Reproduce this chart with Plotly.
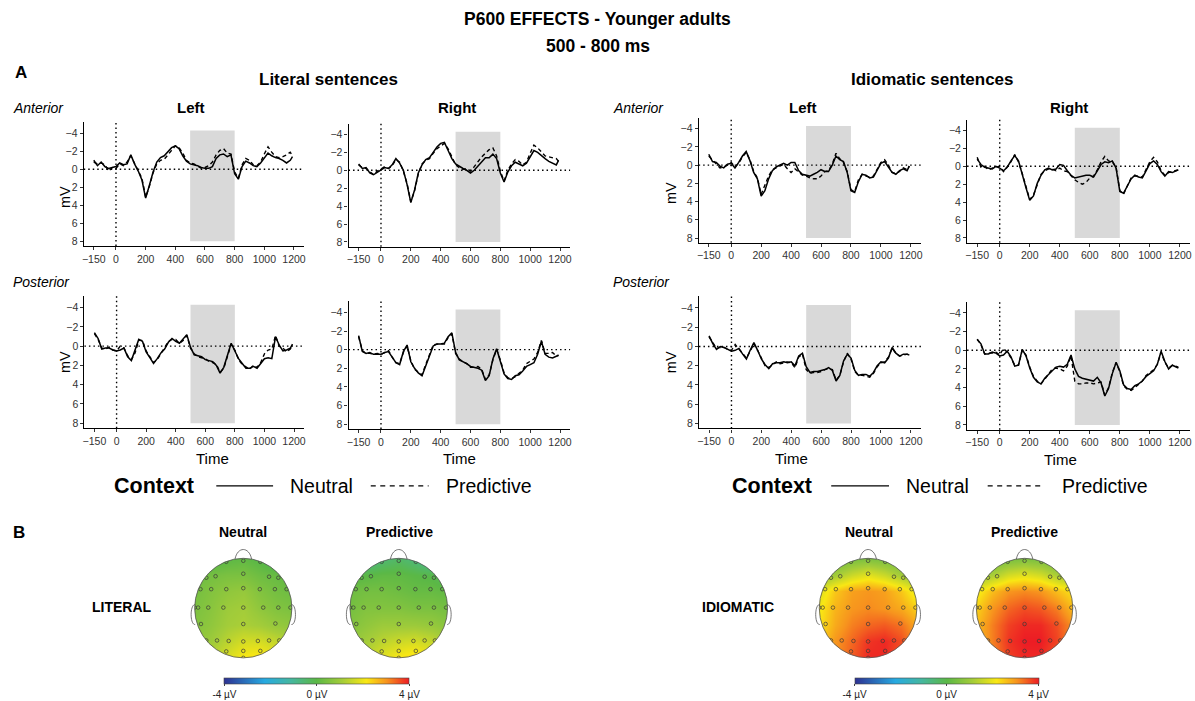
import math
import plotly.graph_objects as go

W, H = 1195, 701
FONT = "Liberation Sans, Arial, sans-serif"

# ---------------- data ----------------
TIME = [-150, -125, -100, -75, -50, -25, 0, 25, 50, 75, 100, 125, 150, 175, 200, 225, 250, 275,
        300, 325, 350, 375, 400, 425, 450, 475, 500, 525, 550, 575, 600, 625, 650, 675, 700,
        725, 750, 775, 800, 825, 850, 875, 900, 925, 950, 975, 1000, 1025, 1050, 1075, 1100,
        1125, 1150, 1175, 1190]

X_TICKS = [-150, 0, 200, 400, 600, 800, 1000, 1200]
Y_TICKS = [-4, -2, 0, 2, 4, 6, 8]
P600_WINDOW = [500, 800]

# Literal sentences
LIT_ANT_LEFT_NEUTRAL = [-1.0, -0.4, -0.8, -0.3, -0.1, -0.2, -0.3, -0.7, -0.5, -0.6,
                        -1.6, -0.6, 0.2, 1.2, 3.2, 1.8, 0.3, -0.8, -1.3, -1.5,
                        -1.9, -2.4, -2.6, -2.3, -1.5, -0.9, -0.6, -0.5, -0.4, -0.2,
                        -0.1, -0.1, -0.3, -1.2, -1.6, -1.7, -1.4, -1.6, 0.5, 1.1,
                        -0.3, -0.9, -0.7, -0.4, -0.3, -0.7, -1.3, -1.8, -1.5, -1.3,
                        -1.2, -1.0, -0.7, -1.0, -1.4]
LIT_ANT_LEFT_PREDICTIVE = [-0.8, -0.6, -0.7, -0.5, 0.2, -0.2, -0.1, -0.6, -0.4, -0.8,
                           -1.5, -0.7, 0.1, 1.0, 3.1, 1.9, 0.4, -0.6, -1.0, -1.1,
                           -1.6, -2.1, -2.6, -2.4, -1.8, -1.0, -0.7, -0.6, -0.3, -0.1,
                           -0.2, -0.4, -0.8, -1.6, -2.1, -2.3, -1.8, -1.7, 0.3, 1.0,
                           -0.5, -1.2, -1.0, -0.5, -0.4, -0.8, -1.7, -2.5, -1.9, -1.4,
                           -1.3, -1.4, -1.6, -1.9, -1.5]
LIT_ANT_RIGHT_NEUTRAL = [-0.7, -0.2, -0.3, 0.3, 0.5, 0.2, -0.1, -0.3, -0.2, -0.6,
                         -1.3, -0.8, 0.0, 1.6, 3.6, 2.2, 0.3, -0.6, -1.2, -1.4,
                         -2.0, -2.6, -3.0, -3.1, -2.2, -1.3, -0.7, -0.4, -0.2, 0.0,
                         0.3, 0.0, -0.5, -1.0, -1.4, -1.4, -1.8, -1.3, 0.3, 1.3,
                         0.2, -0.5, -0.9, -0.7, -0.5, -0.8, -1.5, -2.2, -2.0, -1.6,
                         -1.3, -1.0, -0.8, -0.6, -1.1]
LIT_ANT_RIGHT_PREDICTIVE = [-0.6, -0.3, -0.2, 0.2, 0.5, 0.1, -0.2, -0.4, -0.2, -0.5,
                            -1.2, -0.9, 0.1, 1.5, 3.5, 2.3, 0.4, -0.7, -1.1, -1.3,
                            -1.9, -2.4, -2.7, -3.0, -2.4, -1.5, -0.6, -0.3, -0.1, -0.2,
                            0.1, -0.4, -1.0, -1.5, -1.9, -2.3, -2.5, -1.6, 0.1, 1.2,
                            0.0, -0.7, -1.2, -1.0, -0.6, -0.9, -1.9, -2.8, -2.5, -2.0,
                            -1.6, -1.5, -1.4, -1.3, -1.0]
LIT_POST_LEFT_NEUTRAL = [-1.4, -0.8, 0.3, 0.2, 0.2, 0.4, 0.5, 0.4, 0.2, 1.1,
                         1.5, 0.4, -0.7, -0.5, 0.6, 1.2, 1.8, 1.3, 0.7, 0.3,
                         -0.4, -0.8, -0.5, -0.3, -0.7, -1.2, 0.1, 0.9, 1.0, 1.1,
                         1.4, 1.5, 1.6, 2.0, 2.8, 2.2, 0.9, -0.3, 0.5, 1.3,
                         1.8, 2.3, 2.3, 2.1, 2.3, 1.8, 1.3, 1.2, 1.3, -1.0,
                         -0.1, 0.5, 0.4, 0.2, -0.2]
LIT_POST_LEFT_PREDICTIVE = [-1.3, -0.7, 0.2, 0.3, 0.1, 0.4, 0.5, 0.0, 0.2, 1.0,
                            1.4, 0.7, -0.6, -0.6, 0.5, 1.1, 1.7, 1.4, 0.8, 0.2,
                            -0.5, -0.7, -0.7, -0.3, -0.6, -1.1, 0.2, 0.8, 1.1, 1.2,
                            1.3, 1.6, 1.7, 1.9, 2.7, 2.3, 1.0, -0.2, 0.4, 1.4,
                            1.9, 2.2, 2.4, 2.0, 2.2, 1.7, 0.8, 0.4, 0.3, -1.1,
                            0.0, 0.2, 0.6, 0.3, -0.1]
LIT_POST_RIGHT_NEUTRAL = [-1.5, 0.2, 0.4, 0.3, 0.5, 0.5, 0.5, 0.3, 0.2, 0.8,
                          1.4, 1.6, 0.2, -0.5, 1.3, 2.0, 2.5, 2.8, 1.8, 0.8,
                          -0.4, -0.6, -0.6, -0.7, -1.4, -1.8, 0.3, 1.1, 1.3, 1.5,
                          1.8, 1.9, 2.0, 2.2, 3.3, 2.8, 1.0, -0.1, 1.2, 2.6,
                          3.1, 3.2, 2.8, 2.7, 2.3, 1.8, 1.6, 1.4, 0.5, -0.9,
                          0.5, 0.8, 0.9, 0.7, 0.6]
LIT_POST_RIGHT_PREDICTIVE = [-1.4, 0.1, 0.4, 0.4, 0.5, 0.4, 0.5, 0.3, 0.1, 0.8,
                             1.4, 1.5, 0.3, -0.4, 1.2, 2.1, 2.4, 2.7, 1.6, 0.6,
                             -0.5, -0.6, -0.6, -0.6, -1.3, -1.7, 0.4, 1.0, 1.3, 1.5,
                             1.9, 1.9, 1.8, 2.1, 3.2, 2.7, 1.1, 0.0, 1.1, 2.5,
                             3.0, 3.1, 2.9, 2.6, 2.2, 1.5, 1.2, 1.0, 0.3, -1.0,
                             0.4, 0.4, 0.3, 0.7, 0.6]

# Idiomatic sentences
IDI_ANT_LEFT_NEUTRAL = [-1.2, -0.4, -0.3, 0.1, 0.3, -0.1, -0.2, 0.3, -0.3, -1.0,
                        -1.5, -0.5, 0.8, 1.5, 3.4, 2.8, 1.5, 0.6, 0.2, 0.0,
                        -0.2, 0.0, -0.3, -0.3, 0.6, 1.0, 1.1, 1.2, 1.0, 0.8,
                        0.5, 0.7, 0.7, 0.0, -1.0, -0.6, -0.4, 0.8, 2.8, 3.0,
                        1.8, 1.0, 1.1, 1.4, 1.3, 0.6, -0.2, -0.4, 0.2, 0.8,
                        1.0, 0.6, 0.4, 0.6, 0.1]
IDI_ANT_LEFT_PREDICTIVE = [-1.0, -0.6, -0.2, 0.3, 0.2, 0.0, -0.3, 0.2, -0.2, -0.9,
                           -1.4, -0.6, 0.7, 1.4, 3.2, 2.2, 1.2, 0.5, 0.3, 0.1,
                           -0.1, 0.4, 0.8, 0.4, 0.7, 1.1, 1.2, 1.4, 1.5, 1.5,
                           1.2, 0.7, 0.6, -0.1, -1.3, -0.7, -0.3, 0.7, 2.7, 2.9,
                           1.6, 1.0, 1.2, 1.3, 1.2, 0.5, -0.3, -0.6, 0.0, 0.8,
                           0.9, 0.7, 0.3, 0.5, 0.1]
IDI_ANT_RIGHT_NEUTRAL = [-0.8, -0.2, 0.1, 0.2, 0.3, 0.0, 0.2, 0.5, 0.1, -0.6,
                         -1.2, -0.6, 1.0, 2.4, 3.8, 3.3, 1.9, 1.0, 0.4, 0.2,
                         0.4, 0.3, -0.2, -0.1, 0.5, 1.0, 1.3, 1.2, 1.1, 1.0,
                         1.0, 1.2, 0.5, -0.2, -0.5, -0.4, -0.6, 0.2, 2.8, 3.0,
                         2.2, 1.4, 1.0, 1.2, 1.3, 0.5, -0.3, -0.6, -0.2, 0.6,
                         1.1, 0.6, 0.7, 0.5, 0.4]
IDI_ANT_RIGHT_PREDICTIVE = [-1.0, 0.1, 0.0, 0.4, 0.2, 0.1, 0.0, 0.6, 0.0, -0.5,
                            -1.3, -0.5, 0.8, 2.3, 3.7, 3.2, 2.0, 0.9, 0.5, 0.3,
                            0.3, 0.5, 0.2, 0.5, 0.6, 1.1, 1.5, 1.8, 2.0, 1.8,
                            1.3, 1.1, 0.4, -0.5, -1.1, -0.6, -0.5, 0.1, 2.7, 3.1,
                            2.1, 1.3, 1.1, 1.1, 1.2, 0.4, -0.5, -1.0, -0.5, 0.5,
                            1.0, 0.7, 0.6, 0.5, 0.4]
IDI_POST_LEFT_NEUTRAL = [-1.1, -0.3, 0.3, 0.0, 0.1, 0.3, 0.5, 0.4, 0.2, 0.8,
                         1.3, 0.4, -0.4, 0.4, 1.3, 1.9, 2.3, 1.8, 1.7, 1.7,
                         1.6, 1.7, 1.6, 2.0, 1.0, 0.7, 2.1, 2.7, 2.6, 2.6,
                         2.5, 2.4, 2.2, 2.5, 3.6, 3.0, 1.5, 0.8, 1.2, 2.5,
                         3.0, 2.9, 2.9, 3.1, 2.7, 2.0, 1.6, 1.7, 1.2, 0.1,
                         0.7, 1.0, 0.8, 0.8, 0.9]
IDI_POST_LEFT_PREDICTIVE = [-1.0, -0.4, 0.2, 0.1, 0.1, 0.3, 0.4, -0.2, 0.3, 0.7,
                            1.2, 0.5, -0.3, 0.4, 1.2, 2.0, 2.2, 1.9, 1.6, 1.8,
                            1.7, 1.6, 1.7, 2.2, 1.1, 0.8, 2.4, 2.8, 2.7, 2.7,
                            2.6, 2.4, 2.3, 2.4, 3.5, 3.0, 1.6, 0.7, 1.3, 2.6,
                            3.0, 3.0, 3.1, 3.2, 2.8, 2.1, 1.7, 1.6, 1.1, 0.2,
                            0.7, 1.0, 0.9, 0.8, 0.9]
IDI_POST_RIGHT_NEUTRAL = [-1.15, -0.7, 0.4, 0.4, 0.2, 0.3, 0.6, 0.5, 0.1, 0.7,
                          1.7, 1.6, -0.1, 0.6, 1.9, 2.9, 3.4, 3.6, 3.0, 2.6,
                          2.1, 1.8, 1.7, 1.8, 1.5, 0.5, 2.0, 2.8, 3.0, 3.1,
                          3.2, 3.3, 2.9, 3.5, 4.9, 4.1, 2.5, 1.3, 2.2, 3.7,
                          4.1, 4.2, 3.8, 3.6, 3.3, 2.8, 2.5, 2.2, 1.5, 0.1,
                          1.2, 2.0, 1.6, 1.8, 1.9]
IDI_POST_RIGHT_PREDICTIVE = [-1.2, -0.6, 0.4, 0.3, 0.3, 0.2, 0.5, -0.2, 0.2, 0.8,
                             1.6, 1.6, 0.0, 0.5, 1.8, 2.8, 3.3, 3.6, 3.1, 2.5,
                             2.0, 1.9, 2.0, 2.2, 1.7, 0.6, 3.3, 3.6, 3.6, 3.5,
                             3.5, 3.6, 3.5, 3.4, 4.8, 4.0, 2.4, 1.3, 2.3, 3.8,
                             4.2, 4.3, 4.0, 3.7, 3.3, 2.7, 2.4, 2.1, 1.5, 0.2,
                             1.3, 1.9, 1.6, 1.7, 1.8]

# Topographic maps (µV, 500-800 ms), coarse grid rows front -> back, cols left -> right
TOPO_GRID = [-1.0, -0.667, -0.333, 0.0, 0.333, 0.667, 1.0]
TOPO_LIT_NEUTRAL = [[-0.4, -0.2, 0.0, 0.1, -0.1, -0.5, -0.8],
                    [0.2, 0.4, 0.5, 0.5, 0.3, 0.2, 0.0],
                    [0.4, 0.6, 0.8, 0.9, 0.6, 0.4, 0.3],
                    [0.5, 0.7, 1.0, 1.1, 0.8, 0.6, 0.5],
                    [0.6, 0.8, 1.1, 1.2, 1.1, 0.9, 0.8],
                    [0.8, 1.0, 1.4, 1.7, 1.7, 1.5, 1.2],
                    [1.0, 1.3, 1.8, 2.2, 2.3, 2.0, 1.6]]
TOPO_LIT_PREDICTIVE = [[-1.3, -1.0, -0.6, -0.4, -0.7, -1.2, -1.5],
                       [-0.1, 0.0, 0.1, 0.1, 0.0, -0.1, -0.4],
                       [0.3, 0.4, 0.4, 0.3, 0.2, 0.2, 0.1],
                       [0.4, 0.6, 0.6, 0.6, 0.5, 0.5, 0.4],
                       [0.6, 0.8, 1.0, 1.0, 1.0, 0.9, 0.7],
                       [0.8, 1.1, 1.4, 1.6, 1.7, 1.5, 1.1],
                       [1.0, 1.4, 1.9, 2.2, 2.4, 2.1, 1.6]]
TOPO_IDI_NEUTRAL = [[0.0, 0.2, 0.4, 0.5, 0.4, 0.2, 0.0],
                    [0.7, 1.1, 1.6, 1.9, 1.6, 1.1, 0.7],
                    [1.8, 2.5, 2.9, 3.0, 2.9, 2.5, 1.9],
                    [2.1, 2.7, 3.0, 3.1, 3.0, 2.8, 2.4],
                    [2.2, 2.8, 3.2, 3.4, 3.5, 3.3, 2.8],
                    [2.4, 3.0, 3.4, 3.8, 3.9, 3.6, 3.0],
                    [2.4, 3.0, 3.5, 3.9, 3.9, 3.5, 3.0]]
TOPO_IDI_PREDICTIVE = [[0.0, 0.2, 0.4, 0.5, 0.4, 0.2, 0.0],
                       [0.8, 1.2, 1.7, 1.9, 1.7, 1.2, 0.8],
                       [2.0, 2.6, 3.0, 3.1, 3.0, 2.6, 2.2],
                       [2.4, 3.0, 3.4, 3.6, 3.5, 3.2, 2.6],
                       [2.6, 3.2, 3.7, 3.9, 3.9, 3.6, 3.0],
                       [2.6, 3.2, 3.8, 4.0, 4.0, 3.7, 3.0],
                       [2.5, 3.1, 3.7, 3.9, 3.9, 3.5, 3.0]]

ELECTRODE_X = [-0.35, 0.0, 0.35,
               0.0, -0.57, 0.53, -0.76, 0.72,
               -0.88, -0.66, -0.35, 0.0, 0.34, 0.65, 0.89,
               -1.0, -0.93, -0.72, -0.41, 0.0, 0.41, 0.72, 0.97,
               -0.87, 0.0, 0.66,
               -0.76, -0.54, -0.3, 0.0, 0.3, 0.53, 0.74,
               -0.35, 0.0, 0.35, 0.0]
ELECTRODE_Y = [0.93, 0.95, 0.93,
               0.69, 0.64, 0.63, 0.61, 0.61,
               0.38, 0.38, 0.38, 0.4, 0.38, 0.38, 0.38,
               0.01, 0.01, 0.01, 0.01, 0.01, 0.01, 0.01, 0.01,
               -0.32, -0.32, -0.31,
               -0.65, -0.65, -0.66, -0.67, -0.66, -0.65, -0.65,
               -0.87, -0.86, -0.86, -1.0]

COLORSCALE = [[0.0, '#2e3192'], [0.22, '#27aae1'], [0.36, '#45b7a0'], [0.5, '#5bb846'],
              [0.64, '#a5cd39'], [0.77, '#f9e814'], [0.88, '#f7931e'], [1.0, '#ed1c24']]

# ---------------- helpers ----------------
def fx(p):
    return p / W


def fy(p):
    return 1 - p / H


def ax_ids(i):
    return ('x', 'y') if i == 1 else (f"x{i}", f"y{i}")


def ax_keys(i):
    return ('xaxis', 'yaxis') if i == 1 else (f"xaxis{i}", f"yaxis{i}")


fig = go.Figure()
shapes = []
annotations = []
layout = {}

# panel geometry in pixels: left, right, top, bottom
PANELS = [
    (LIT_ANT_LEFT_NEUTRAL, LIT_ANT_LEFT_PREDICTIVE, 82, 303, 123, 247),
    (LIT_ANT_RIGHT_NEUTRAL, LIT_ANT_RIGHT_PREDICTIVE, 347.7, 570, 124.2, 247.7),
    (LIT_POST_LEFT_NEUTRAL, LIT_POST_LEFT_PREDICTIVE, 82.7, 303, 297.4, 430),
    (LIT_POST_RIGHT_NEUTRAL, LIT_POST_RIGHT_PREDICTIVE, 347.7, 570, 302.5, 430.9),
    (IDI_ANT_LEFT_NEUTRAL, IDI_ANT_LEFT_PREDICTIVE, 699, 922, 118.3, 243.8),
    (IDI_ANT_RIGHT_NEUTRAL, IDI_ANT_RIGHT_PREDICTIVE, 968.3, 1192, 120.2, 243.7),
    (IDI_POST_LEFT_NEUTRAL, IDI_POST_LEFT_PREDICTIVE, 699.3, 922, 297.7, 430.3),
    (IDI_POST_RIGHT_NEUTRAL, IDI_POST_RIGHT_PREDICTIVE, 968.3, 1192, 303.1, 431.6),
]
MV_LABEL_PANELS = {1: 53, 3: 53, 5: 672, 7: 672}
TIME_LABEL_PANELS = {3: 460, 4: 460, 7: 460, 8: 461}

for i, (neu, pred, l, r, t, b) in enumerate(PANELS, start=1):
    xa, ya = ax_ids(i)
    xk, yk = ax_keys(i)
    fig.add_trace(go.Scatter(x=TIME, y=neu, xaxis=xa, yaxis=ya, mode='lines',
                             line=dict(color='black', width=1.5), showlegend=False,
                             hoverinfo='skip'))
    fig.add_trace(go.Scatter(x=TIME, y=pred, xaxis=xa, yaxis=ya, mode='lines',
                             line=dict(color='black', width=1.4, dash='4px,3px'),
                             showlegend=False, hoverinfo='skip'))
    layout[xk] = dict(domain=[fx(l), fx(r)], anchor=ya, range=[-217.5, 1267.5],
                      tickvals=X_TICKS, ticks='outside', ticklen=3, tickwidth=1,
                      tickcolor='#333', showline=True, linecolor='black', linewidth=1.1,
                      showgrid=False, zeroline=False,
                      tickfont=dict(family=FONT, size=10.5, color='#333'))
    layout[yk] = dict(domain=[fy(b), fy(t)], anchor=xa, range=[8.52, -5.2],
                      tickvals=Y_TICKS, ticks='outside', ticklen=3, tickwidth=1,
                      tickcolor='#333', showline=True, linecolor='black', linewidth=1.1,
                      showgrid=False, zeroline=False,
                      tickfont=dict(family=FONT, size=10.5, color='#333'))
    shapes.append(dict(type='rect', xref=xa, yref=ya, x0=P600_WINDOW[0], x1=P600_WINDOW[1],
                       y0=-4.3, y1=8.0, fillcolor='#d9d9d9', line=dict(width=0), layer='below'))
    shapes.append(dict(type='line', xref=f"{xa} domain", yref=ya, x0=0, x1=1, y0=0, y1=0,
                       line=dict(color='black', width=1.4, dash='1.5px,3px')))
    shapes.append(dict(type='line', xref=xa, yref=f"{ya} domain", x0=0, x1=0, y0=0, y1=1,
                       line=dict(color='black', width=1.4, dash='1.5px,3px')))
    if i in MV_LABEL_PANELS:
        annotations.append(dict(text='mV', x=fx(MV_LABEL_PANELS[i]), y=fy((t + b) / 2),
                                xref='paper', yref='paper', showarrow=False, textangle=-90,
                                font=dict(family=FONT, size=14.5, color='black')))
    if i in TIME_LABEL_PANELS:
        annotations.append(dict(text='Time', x=fx((l + r) / 2), y=fy(TIME_LABEL_PANELS[i]),
                                xref='paper', yref='paper', showarrow=False,
                                font=dict(family=FONT, size=15, color='black')))

# ---------------- topographic maps ----------------
TOPOS = [
    (TOPO_LIT_NEUTRAL, 242.1, 48.8, 'coloraxis'),
    (TOPO_LIT_PREDICTIVE, 398.1, 49.0, 'coloraxis'),
    (TOPO_IDI_NEUTRAL, 869.0, 49.0, 'coloraxis2'),
    (TOPO_IDI_PREDICTIVE, 1026.0, 48.4, 'coloraxis2'),
]
HEAD_CY, HEAD_RY = 610.7, 50.0
XR = (-1.3, 1.3)
YR = (-1.3, 1.3)

ellipse_pts = [(math.cos(2 * math.pi * k / 160), -math.sin(2 * math.pi * k / 160)) for k in range(160)]
hole = "M " + " L ".join(f"{x:.4f},{y:.4f}" for x, y in ellipse_pts) + " Z"
outer = "M -3,-3 L 3,-3 L 3,3 L -3,3 Z"
mask_path = outer + " " + hole

for j, (grid, cx, rx, cax) in enumerate(TOPOS, start=9):
    xa, ya = ax_ids(j)
    xk, yk = ax_keys(j)
    fig.add_trace(go.Heatmap(x=TOPO_GRID, y=TOPO_GRID[::-1], z=grid, coloraxis=cax,
                             zsmooth='best', xaxis=xa, yaxis=ya, hoverinfo='skip'))
    fig.add_trace(go.Scatter(x=ELECTRODE_X, y=ELECTRODE_Y, xaxis=xa, yaxis=ya, mode='markers',
                             marker=dict(symbol='circle-open', size=3.6, color='#3a3a3a',
                                         line=dict(width=0.7, color='#3a3a3a')),
                             showlegend=False, hoverinfo='skip'))
    x0p = cx + XR[0] * rx
    x1p = cx + XR[1] * rx
    y_top = HEAD_CY - YR[1] * HEAD_RY
    y_bot = HEAD_CY - YR[0] * HEAD_RY
    layout[xk] = dict(domain=[fx(x0p), fx(x1p)], anchor=ya, range=list(XR), visible=False)
    layout[yk] = dict(domain=[fy(y_bot), fy(y_top)], anchor=xa, range=list(YR), visible=False)
    shapes.append(dict(type='path', xref=xa, yref=ya, path=mask_path, fillcolor='white',
                       fillrule='evenodd', line=dict(width=0), layer='above'))
    shapes.append(dict(type='circle', xref=xa, yref=ya, x0=-1, x1=1, y0=-1, y1=1,
                       line=dict(color='#555', width=0.8)))
    shapes.append(dict(type='path', xref=xa, yref=ya,
                       path="M -0.17,0.985 C -0.12,1.24 0.12,1.24 0.17,0.985",
                       line=dict(color='#555', width=0.8)))
    shapes.append(dict(type='path', xref=xa, yref=ya,
                       path="M -0.99,0.07 C -1.10,0.08 -1.10,-0.34 -0.99,-0.33",
                       line=dict(color='#555', width=0.8)))
    shapes.append(dict(type='path', xref=xa, yref=ya,
                       path="M 0.99,0.07 C 1.10,0.08 1.10,-0.34 0.99,-0.33",
                       line=dict(color='#555', width=0.8)))


def cbar(center_px, len_px):
    return dict(orientation='h', x=fx(center_px), xanchor='center', y=fy(681), yanchor='top',
                len=len_px / W, lenmode='fraction', thickness=6, xpad=0, ypad=0,
                outlinewidth=0.6, outlinecolor='#444',
                tickvals=[-4, 0, 4], ticktext=['-4 µV', '0 µV', '4 µV'], ticks='outside',
                ticklen=2, tickcolor='#444', tickfont=dict(family=FONT, size=10, color='#222'))


layout['coloraxis'] = dict(cmin=-4, cmax=4, colorscale=COLORSCALE, colorbar=cbar(316, 186))
layout['coloraxis2'] = dict(cmin=-4, cmax=4, colorscale=COLORSCALE, colorbar=cbar(947.7, 185))


# ---------------- texts ----------------
def txt(s, x, y, size, bold=False, italic=False, anchor='center'):
    if bold:
        s = f"<b>{s}</b>"
    if italic:
        s = f"<i>{s}</i>"
    annotations.append(dict(text=s, x=fx(x), y=fy(y), xref='paper', yref='paper',
                            showarrow=False, xanchor=anchor, yanchor='middle',
                            font=dict(family=FONT, size=size, color='black')))


txt("P600 EFFECTS - Younger adults", 598, 19, 17.5, bold=True)
txt("500 - 800 ms", 598, 46, 17.5, bold=True)
txt("A", 19, 73, 17, bold=True)
txt("B", 17, 535, 17, bold=True)
txt("Literal sentences", 328, 80, 17, bold=True)
txt("Idiomatic sentences", 934, 80, 17, bold=True)
txt("Anterior", 9, 108, 14, italic=True, anchor='left')
txt("Posterior", 9, 283, 14, italic=True, anchor='left')
txt("Anterior", 611, 108, 14, italic=True, anchor='left')
txt("Posterior", 611, 283, 14, italic=True, anchor='left')
txt("Left", 190, 108, 15, bold=True)
txt("Right", 457, 108, 15, bold=True)
txt("Left", 804, 108, 15, bold=True)
txt("Right", 1071, 108, 15, bold=True)

# legends
for ctx_x, solid, neu_x, dashed, pred_x in [(153, (215, 272), 321, (370, 428), 489),
                                            (773, (832, 890), 939, (989, 1046), 1107)]:
    txt("Context", ctx_x, 488, 21.5, bold=True)
    txt("Neutral", neu_x, 488, 19.5)
    txt("Predictive", pred_x, 488, 19.5)
    shapes.append(dict(type='line', xref='paper', yref='paper', x0=fx(solid[0]), x1=fx(solid[1]),
                       y0=fy(488), y1=fy(488), line=dict(color='black', width=1.1)))
    shapes.append(dict(type='line', xref='paper', yref='paper', x0=fx(dashed[0]), x1=fx(dashed[1]),
                       y0=fy(488), y1=fy(488), line=dict(color='black', width=1.1, dash='5px,4.5px')))

# topomap labels
txt("Neutral", 241.5, 534, 14, bold=True)
txt("Predictive", 398.6, 534, 14, bold=True)
txt("Neutral", 869.5, 534, 14, bold=True)
txt("Predictive", 1026, 534, 14, bold=True)
txt("LITERAL", 120, 610, 14, bold=True)
txt("IDIOMATIC", 738.6, 610, 14, bold=True)

fig.update_layout(width=W, height=H, margin=dict(l=0, r=0, t=0, b=0), autosize=False,
                  paper_bgcolor='white', plot_bgcolor='white', showlegend=False,
                  shapes=shapes, annotations=annotations, **layout)

fig.write_html("out.html", config={'displayModeBar': False},
               post_script="document.body.style.margin='0';document.body.style.padding='0';")
